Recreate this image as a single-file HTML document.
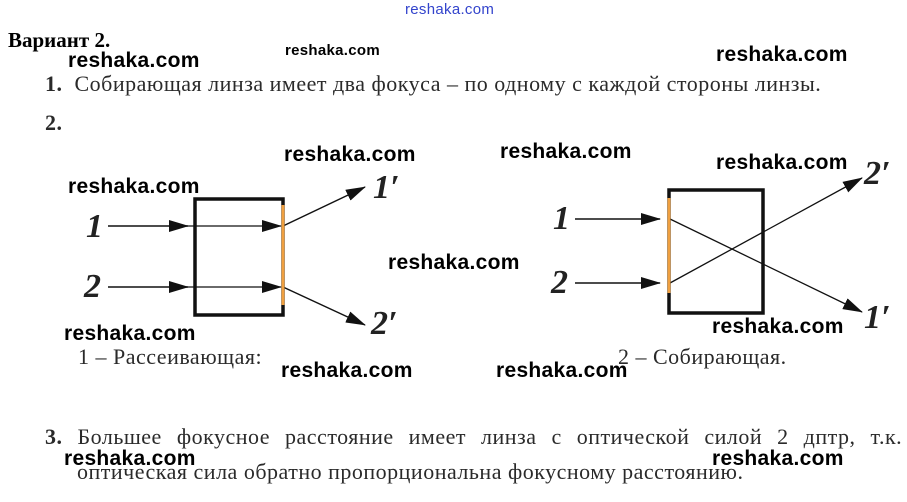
<!DOCTYPE html>
<html><head><meta charset="utf-8"><style>
body{margin:0;width:907px;height:502px;background:#fff;position:relative;overflow:hidden;font-family:"Liberation Serif",serif;color:#2a2a2a}
.t{position:absolute;font-size:22px;white-space:nowrap;letter-spacing:0.5px}
.w{position:absolute;font-family:"Liberation Sans",sans-serif;font-size:21px;font-weight:bold;color:#000;white-space:nowrap;letter-spacing:0.3px}
.b{font-weight:bold}
</style></head><body>
<div class="w" style="left:405px;top:1px;font-size:15px;font-weight:normal;color:#3344cc">reshaka.com</div>
<div class="t b" style="left:8px;top:28px;color:#000;font-size:21px;letter-spacing:0">Вариант 2.</div>
<div class="w" style="left:285px;top:42px;font-size:15px">reshaka.com</div>
<div class="w" style="left:68px;top:49px">reshaka.com</div>
<div class="w" style="left:716px;top:43px">reshaka.com</div>
<div class="t" style="left:45px;top:71px"><b>1.</b>&nbsp;&nbsp;Собирающая линза имеет два фокуса – по одному с каждой стороны линзы.</div>
<div class="t b" style="left:45px;top:110px">2.</div>
<div class="w" style="left:284px;top:143px">reshaka.com</div>
<div class="w" style="left:500px;top:140px">reshaka.com</div>
<div class="w" style="left:716px;top:151px">reshaka.com</div>
<div class="w" style="left:68px;top:175px">reshaka.com</div>
<div class="w" style="left:388px;top:251px">reshaka.com</div>
<div class="w" style="left:64px;top:322px">reshaka.com</div>
<div class="w" style="left:712px;top:315px">reshaka.com</div>
<svg style="position:absolute;left:0;top:0" width="907" height="502">
<defs><marker id="a" markerWidth="20" markerHeight="12" refX="19" refY="6" orient="auto" markerUnits="userSpaceOnUse"><path d="M0,0 L20,6 L0,12 Z" fill="#111"/></marker></defs>
<g stroke="#111" fill="none">
<rect x="195" y="199" width="88" height="116" stroke-width="3.5"/>
<line x1="108" y1="226" x2="188" y2="226" stroke-width="1.5" marker-end="url(#a)"/>
<line x1="175" y1="226" x2="281" y2="226" stroke-width="1.3" marker-end="url(#a)"/>
<line x1="108" y1="287" x2="188" y2="287" stroke-width="1.5" marker-end="url(#a)"/>
<line x1="175" y1="287" x2="281" y2="287" stroke-width="1.3" marker-end="url(#a)"/>
<line x1="283" y1="226" x2="365" y2="187" stroke-width="1.5" marker-end="url(#a)"/>
<line x1="283" y1="287" x2="365" y2="325" stroke-width="1.5" marker-end="url(#a)"/>
<rect x="669" y="190" width="94" height="123" stroke-width="3.5"/>
<line x1="575" y1="219" x2="660" y2="219" stroke-width="1.5" marker-end="url(#a)"/>
<line x1="575" y1="283" x2="660" y2="283" stroke-width="1.5" marker-end="url(#a)"/>
<line x1="670" y1="219" x2="862" y2="312" stroke-width="1.3" marker-end="url(#a)"/>
<line x1="670" y1="283" x2="862" y2="178" stroke-width="1.3" marker-end="url(#a)"/>
</g>
<line x1="283" y1="205" x2="283" y2="305" stroke="#f0a040" stroke-width="3"/>
<line x1="669" y1="198" x2="669" y2="293" stroke="#f0a040" stroke-width="3"/>
<g font-family="Liberation Serif,serif" font-style="italic" font-weight="bold" font-size="34" fill="#222">
<text x="86" y="237">1</text><text x="84" y="297">2</text>
<text x="373" y="198">1′</text><text x="371" y="334">2′</text>
<text x="553" y="229">1</text><text x="551" y="293">2</text>
<text x="864" y="184">2′</text><text x="864" y="328">1′</text>
</g>
</svg>
<div class="t" style="left:78px;top:344px">1 – Рассеивающая:</div>
<div class="t" style="left:618px;top:344px">2 – Собирающая.</div>
<div class="w" style="left:281px;top:359px">reshaka.com</div>
<div class="w" style="left:496px;top:359px">reshaka.com</div>
<div class="t" style="left:45px;top:424px;word-spacing:9px"><b>3.</b> Большее фокусное расстояние имеет линза с оптической силой 2 дптр, т.к.</div>
<div class="t" style="left:77px;top:459px">оптическая сила обратно пропорциональна фокусному расстоянию.</div>
<div class="w" style="left:64px;top:447px">reshaka.com</div>
<div class="w" style="left:712px;top:447px">reshaka.com</div>
</body></html>
